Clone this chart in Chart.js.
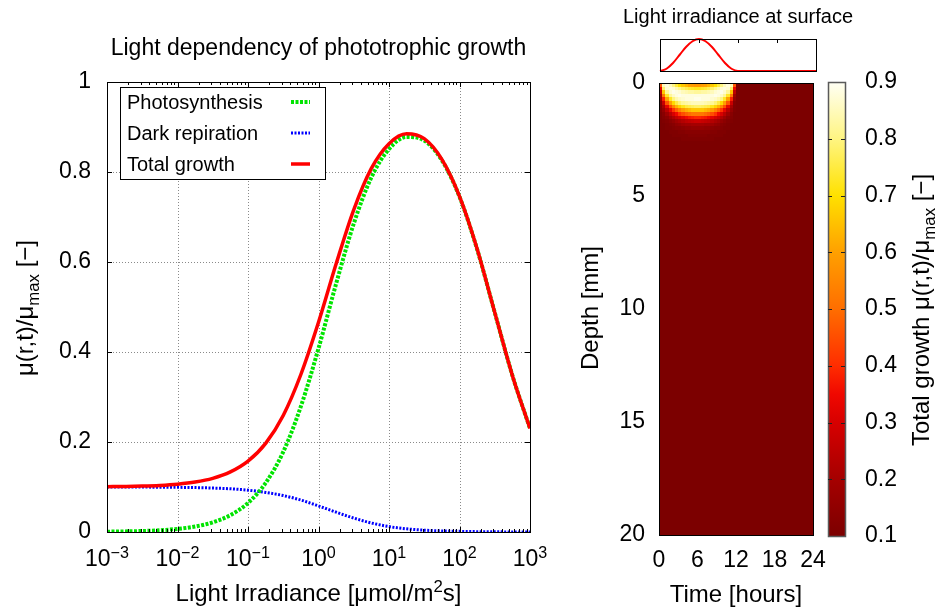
<!DOCTYPE html>
<html>
<head>
<meta charset="utf-8">
<title>Light dependency of phototrophic growth</title>
<script src="https://cdn.jsdelivr.net/npm/chart.js@4.4.1/dist/chart.umd.min.js"></script>
<style>
  html, body { margin: 0; padding: 0; background: #fff; }
  #wrap { position: relative; width: 938px; height: 611px; overflow: hidden; background: #fff; }
  canvas { position: absolute; }
</style>
</head>
<body>
<div id="wrap">
  <canvas id="growthChart" width="560" height="611" style="left:0;top:0"></canvas>
  <canvas id="depthChart" width="300" height="611" style="left:560px;top:0"></canvas>
  <canvas id="surfaceChart" width="260" height="80" style="left:600px;top:0"></canvas>
  <canvas id="scaleChart" width="138" height="611" style="left:800px;top:0"></canvas>
</div>
<script>
  // Left panel: growth vs light irradiance (umol/m2s), log x
  const irradiance = [0.001, 0.00178, 0.00316, 0.00562, 0.01, 0.0178, 0.0316, 0.0562, 0.1, 0.178, 0.316, 0.562,
    1, 1.78, 3.16, 5.62, 10, 17.8, 31.6, 56.2, 100, 178, 316, 562, 1000];
  const photosynthesis = [0.0007, 0.0013, 0.0022, 0.0039, 0.0069, 0.0122, 0.0214, 0.0375, 0.0645, 0.109, 0.178, 0.279,
    0.408, 0.552, 0.685, 0.788, 0.851, 0.878, 0.870, 0.826, 0.745, 0.628, 0.488, 0.348, 0.230];
  const darkRespiration = [0.1, 0.0999, 0.0998, 0.0996, 0.0993, 0.0987, 0.0977, 0.096, 0.093, 0.088, 0.081, 0.071,
    0.058, 0.044, 0.031, 0.020, 0.012, 0.007, 0.004, 0.0024, 0.0014, 0.0008, 0.0004, 0.0002, 0.0001];
  const totalGrowth = [0.1007, 0.1012, 0.102, 0.1035, 0.1062, 0.1109, 0.1191, 0.1335, 0.1575, 0.197, 0.259, 0.350,
    0.466, 0.596, 0.716, 0.808, 0.863, 0.885, 0.874, 0.828, 0.746, 0.629, 0.488, 0.348, 0.230];
  const irrTicks = [0.001, 0.01, 0.1, 1, 10, 100, 1000];
  const irrTickExp = ['\u22123', '\u22122', '\u22121', '0', '1', '2', '3'];
  const growthTicks = [0, 0.2, 0.4, 0.6, 0.8, 1];
  const growthTickLabels = ['0', '0.2', '0.4', '0.6', '0.8', '1'];

  // Right panel: growth map over time (hours) and depth (mm)
  const hourEdges = [0, 0.5, 1, 1.5, 2, 2.5, 3, 3.5, 4, 4.5, 5, 5.5, 6, 6.5, 7, 7.5, 8, 8.5, 9, 9.5, 10, 10.5, 11, 11.5, 12, 24];
  const depthEdges = [0, 0.16, 0.32, 0.48, 0.64, 0.80, 0.96, 1.12, 1.28, 1.44, 1.60, 1.76, 1.92, 2.08, 2.24, 2.40, 2.56, 20];
  const growthMap = [
    [0.47,0.85,0.88,0.85,0.80,0.75,0.70,0.66,0.63,0.60,0.59,0.58,0.58,0.59,0.60,0.63,0.66,0.70,0.75,0.80,0.85,0.88,0.85,0.47,0.10],
    [0.34,0.78,0.87,0.88,0.87,0.84,0.81,0.78,0.76,0.74,0.73,0.72,0.72,0.73,0.74,0.76,0.78,0.81,0.84,0.87,0.88,0.87,0.78,0.34,0.10],
    [0.25,0.66,0.82,0.87,0.89,0.88,0.87,0.85,0.84,0.83,0.83,0.82,0.82,0.83,0.83,0.84,0.85,0.87,0.88,0.89,0.87,0.82,0.66,0.25,0.10],
    [0.18,0.52,0.73,0.82,0.86,0.88,0.89,0.88,0.88,0.88,0.88,0.88,0.88,0.88,0.88,0.88,0.88,0.89,0.88,0.86,0.82,0.73,0.52,0.18,0.10],
    [0.15,0.38,0.60,0.73,0.80,0.84,0.86,0.87,0.88,0.88,0.88,0.89,0.89,0.88,0.88,0.88,0.87,0.86,0.84,0.80,0.73,0.60,0.38,0.15,0.10],
    [0.12,0.27,0.46,0.60,0.69,0.75,0.79,0.82,0.83,0.84,0.85,0.85,0.85,0.85,0.84,0.83,0.82,0.79,0.75,0.69,0.60,0.46,0.27,0.12,0.10],
    [0.11,0.20,0.33,0.45,0.55,0.63,0.68,0.72,0.75,0.76,0.77,0.78,0.78,0.77,0.76,0.75,0.72,0.68,0.63,0.55,0.45,0.33,0.20,0.11,0.10],
    [0.11,0.16,0.24,0.33,0.41,0.48,0.54,0.59,0.62,0.64,0.66,0.66,0.66,0.66,0.64,0.62,0.59,0.54,0.48,0.41,0.33,0.24,0.16,0.11,0.10],
    [0.10,0.13,0.18,0.24,0.30,0.35,0.41,0.45,0.48,0.50,0.52,0.52,0.52,0.52,0.50,0.48,0.45,0.41,0.35,0.30,0.24,0.18,0.13,0.10,0.10],
    [0.10,0.12,0.14,0.18,0.22,0.26,0.29,0.32,0.35,0.37,0.38,0.39,0.39,0.38,0.37,0.35,0.32,0.29,0.26,0.22,0.18,0.14,0.12,0.10,0.10],
    [0.10,0.11,0.12,0.14,0.16,0.19,0.21,0.23,0.25,0.26,0.27,0.28,0.28,0.27,0.26,0.25,0.23,0.21,0.19,0.16,0.14,0.12,0.11,0.10,0.10],
    [0.10,0.10,0.11,0.12,0.13,0.15,0.16,0.18,0.19,0.19,0.20,0.20,0.20,0.20,0.19,0.19,0.18,0.16,0.15,0.13,0.12,0.11,0.10,0.10,0.10],
    [0.10,0.10,0.11,0.11,0.12,0.13,0.13,0.14,0.15,0.15,0.16,0.16,0.16,0.16,0.15,0.15,0.14,0.13,0.13,0.12,0.11,0.11,0.10,0.10,0.10],
    [0.10,0.10,0.10,0.11,0.11,0.11,0.12,0.12,0.13,0.13,0.13,0.13,0.13,0.13,0.13,0.13,0.12,0.12,0.11,0.11,0.11,0.10,0.10,0.10,0.10],
    [0.10,0.10,0.10,0.10,0.11,0.11,0.11,0.11,0.11,0.12,0.12,0.12,0.12,0.12,0.12,0.11,0.11,0.11,0.11,0.11,0.10,0.10,0.10,0.10,0.10],
    [0.10,0.10,0.10,0.10,0.10,0.10,0.10,0.11,0.11,0.11,0.11,0.11,0.11,0.11,0.11,0.11,0.11,0.10,0.10,0.10,0.10,0.10,0.10,0.10,0.10],
    [0.10,0.10,0.10,0.10,0.10,0.10,0.10,0.10,0.10,0.10,0.10,0.10,0.10,0.10,0.10,0.10,0.10,0.10,0.10,0.10,0.10,0.10,0.10,0.10,0.10]
  ];
  const hourTicks = [0, 6, 12, 18, 24];
  const depthTicks = [0, 5, 10, 15, 20];
  const scaleTicks = [0.1, 0.2, 0.3, 0.4, 0.5, 0.6, 0.7, 0.8, 0.9];
  const scaleTickLabels = ['0.1', '0.2', '0.3', '0.4', '0.5', '0.6', '0.7', '0.8', '0.9'];

  // Inset: light at the surface over the day (relative)
  const surfaceHours = [0, 1, 2, 3, 4, 5, 6, 7, 8, 9, 10, 11, 12, 24];
  const surfaceLight = [0, 0.07, 0.25, 0.5, 0.75, 0.93, 1, 0.93, 0.75, 0.5, 0.25, 0.07, 0, 0];

  // colour palette for the growth map (value -> rgb)
  const palette = [
    [0.1, [124, 0, 0]], [0.2, [165, 0, 0]], [0.3, [215, 0, 0]], [0.35, [240, 8, 0]], [0.4, [255, 45, 0]],
    [0.5, [255, 110, 0]], [0.6, [255, 160, 0]], [0.7, [255, 225, 0]], [0.8, [255, 245, 130]], [0.9, [255, 255, 245]]
  ];

  const FAMILY = '"Liberation Sans", Arial, Helvetica, sans-serif';
  const fontOf = (size) => size + 'px ' + FAMILY;

  function colorFor(v) {
    if (v <= palette[0][0]) return 'rgb(' + palette[0][1].join(',') + ')';
    for (let i = 1; i < palette.length; i++) {
      if (v <= palette[i][0]) {
        const [v0, c0] = palette[i - 1];
        const [v1, c1] = palette[i];
        const f = (v - v0) / (v1 - v0);
        const c = c0.map((ch, k) => Math.round(ch + (c1[k] - ch) * f));
        return 'rgb(' + c.join(',') + ')';
      }
    }
    return 'rgb(' + palette[palette.length - 1][1].join(',') + ')';
  }

  function line(ctx, x0, y0, x1, y1) {
    ctx.beginPath();
    ctx.moveTo(x0, y0);
    ctx.lineTo(x1, y1);
    ctx.stroke();
  }

  // text made of parts: [text, null | 'sub' | 'sup'], centred on x, baseline y
  function richText(ctx, parts, x, y, size) {
    ctx.textAlign = 'left';
    ctx.textBaseline = 'alphabetic';
    let total = 0;
    parts.forEach(p => { ctx.font = fontOf(p[1] ? size * 0.7 : size); total += ctx.measureText(p[0]).width; });
    let cx = x - total / 2;
    parts.forEach(p => {
      const s = p[1] ? size * 0.7 : size;
      ctx.font = fontOf(s);
      const dy = p[1] === 'sub' ? size * 0.25 : (p[1] === 'sup' ? -size * 0.36 : 0);
      ctx.fillText(p[0], cx, y + dy);
      cx += ctx.measureText(p[0]).width;
    });
  }

  function richTextUp(ctx, parts, x, y, size) {
    ctx.save();
    ctx.translate(x, y);
    ctx.rotate(-Math.PI / 2);
    richText(ctx, parts, 0, 0, size);
    ctx.restore();
  }

  function frame(ctx, a, color, width) {
    ctx.save();
    ctx.strokeStyle = color;
    ctx.lineWidth = width;
    ctx.setLineDash([]);
    ctx.strokeRect(Math.round(a.left) + 0.5, Math.round(a.top) + 0.5, Math.round(a.right - a.left), Math.round(a.bottom - a.top));
    ctx.restore();
  }

  // ---------- left chart ----------
  const growthDecor = {
    id: 'growthDecor',
    beforeDatasetsDraw(chart) {
      const { ctx, chartArea: a, scales: { x, y } } = chart;
      ctx.save();
      ctx.strokeStyle = '#8a8a8a';
      ctx.lineWidth = 1;
      ctx.setLineDash([1, 2]);
      irrTicks.slice(1, -1).forEach(v => {
        const px = Math.round(x.getPixelForValue(v)) + 0.5;
        line(ctx, px, a.top, px, a.bottom);
      });
      growthTicks.slice(1, -1).forEach(v => {
        const py = Math.round(y.getPixelForValue(v)) + 0.5;
        line(ctx, a.left, py, a.right, py);
      });
      ctx.restore();
    },
    afterDraw(chart) {
      const { ctx, chartArea: a, scales: { x, y } } = chart;
      ctx.save();
      frame(ctx, a, '#000', 1);
      ctx.strokeStyle = '#000';
      ctx.lineWidth = 1;

      // ticks pointing inwards, minor ticks on the log axis
      irrTicks.forEach((v, i) => {
        const px = Math.round(x.getPixelForValue(v)) + 0.5;
        line(ctx, px, a.bottom, px, a.bottom - 5);
        line(ctx, px, a.top, px, a.top + 5);
        if (i < irrTicks.length - 1) {
          for (let k = 2; k <= 9; k++) {
            const mx = Math.round(x.getPixelForValue(v * k)) + 0.5;
            line(ctx, mx, a.bottom, mx, a.bottom - 3);
            line(ctx, mx, a.top, mx, a.top + 3);
          }
        }
      });
      growthTicks.forEach(v => {
        const py = Math.round(y.getPixelForValue(v)) + 0.5;
        line(ctx, a.left, py, a.left + 5, py);
        line(ctx, a.right, py, a.right - 5, py);
      });

      ctx.fillStyle = '#000';
      // y tick labels
      ctx.font = fontOf(23);
      ctx.textAlign = 'right';
      ctx.textBaseline = 'middle';
      growthTicks.forEach((v, i) => ctx.fillText(growthTickLabels[i], a.left - 16, y.getPixelForValue(v)));
      // x tick labels 10^n
      irrTicks.forEach((v, i) => richText(ctx, [['10', null], [irrTickExp[i], 'sup']], x.getPixelForValue(v), a.bottom + 34, 23));

      // titles
      ctx.font = fontOf(23);
      ctx.textAlign = 'center';
      ctx.textBaseline = 'alphabetic';
      ctx.fillText('Light dependency of phototrophic growth', (a.left + a.right) / 2, 55);
      richText(ctx, [['Light Irradiance [\u03bcmol/m', null], ['2', 'sup'], ['s]', null]], (a.left + a.right) / 2, 601, 24);
      richTextUp(ctx, [['\u03bc(r,t)/\u03bc', null], ['max', 'sub'], [' [\u2212]', null]], 33, 308, 24);

      // key box
      const kx0 = 120, ky0 = 87, kx1 = 325, ky1 = 179;
      ctx.fillStyle = '#fff';
      ctx.fillRect(kx0, ky0, kx1 - kx0, ky1 - ky0);
      ctx.strokeStyle = '#000';
      ctx.strokeRect(kx0 + 0.5, ky0 + 0.5, kx1 - kx0, ky1 - ky0);
      const keyOrder = [1, 2, 0];
      ctx.font = fontOf(20);
      ctx.textAlign = 'left';
      keyOrder.forEach((di, r) => {
        const ds = chart.data.datasets[di];
        const cy = 102 + r * 31;
        ctx.fillStyle = '#000';
        ctx.fillText(ds.label, 127, cy + 7);
        ctx.save();
        ctx.strokeStyle = ds.borderColor;
        ctx.lineWidth = ds.borderWidth;
        ctx.setLineDash(ds.borderDash || []);
        line(ctx, 291, cy, 310, cy);
        ctx.restore();
      });
      ctx.restore();
    }
  };

  const toPoints = (ys) => irradiance.map((v, i) => ({ x: v, y: ys[i] }));

  new Chart(document.getElementById('growthChart'), {
    type: 'line',
    data: {
      datasets: [
        { label: 'Total growth', data: toPoints(totalGrowth), borderColor: '#ff0000', borderWidth: 3.5, order: 0 },
        { label: 'Photosynthesis', data: toPoints(photosynthesis), borderColor: '#00e400', borderWidth: 4, borderDash: [3, 1.5], order: 1 },
        { label: 'Dark repiration', data: toPoints(darkRespiration), borderColor: '#0000ff', borderWidth: 3, borderDash: [2, 1.5], order: 2 }
      ]
    },
    options: {
      responsive: false,
      animation: false,
      layout: { padding: { left: 107, right: 30, top: 82, bottom: 79 } },
      elements: {
        point: { radius: 0 },
        line: { cubicInterpolationMode: 'monotone', fill: false }
      },
      plugins: { legend: { display: false }, tooltip: { enabled: false } },
      scales: {
        x: { type: 'logarithmic', min: 0.001, max: 1000, display: false },
        y: { type: 'linear', min: 0, max: 1, display: false }
      }
    },
    plugins: [growthDecor]
  });

  // ---------- growth map ----------
  const mapDecor = {
    id: 'mapDecor',
    afterDraw(chart) {
      const { ctx, chartArea: a, scales: { x, y } } = chart;
      ctx.save();
      growthMap.forEach((row, r) => {
        const y0 = Math.round(y.getPixelForValue(depthEdges[r]));
        const y1 = Math.round(y.getPixelForValue(depthEdges[r + 1]));
        row.forEach((v, c) => {
          const x0 = Math.round(x.getPixelForValue(hourEdges[c]));
          const x1 = Math.round(x.getPixelForValue(hourEdges[c + 1]));
          ctx.fillStyle = colorFor(v);
          ctx.fillRect(x0, y0, x1 - x0, y1 - y0);
        });
      });
      frame(ctx, a, '#000', 1);

      ctx.fillStyle = '#000';
      ctx.font = fontOf(23);
      ctx.textAlign = 'right';
      ctx.textBaseline = 'middle';
      depthTicks.forEach(v => ctx.fillText(String(v), a.left - 14, y.getPixelForValue(v)));
      ctx.textAlign = 'center';
      ctx.textBaseline = 'alphabetic';
      hourTicks.forEach(v => ctx.fillText(String(v), x.getPixelForValue(v), 567));
      richText(ctx, [['Time [hours]', null]], 176, 602, 24);
      richTextUp(ctx, [['Depth [mm]', null]], 38, 308, 24);
      ctx.restore();
    }
  };

  new Chart(document.getElementById('depthChart'), {
    type: 'scatter',
    data: { datasets: [] },
    options: {
      responsive: false,
      animation: false,
      layout: { padding: { left: 99, right: 47, top: 83, bottom: 76 } },
      plugins: { legend: { display: false }, tooltip: { enabled: false } },
      scales: {
        x: { type: 'linear', min: 0, max: 24, display: false },
        y: { type: 'linear', min: 0, max: 20, reverse: true, display: false }
      }
    },
    plugins: [mapDecor]
  });

  // ---------- surface light inset ----------
  const surfaceDecor = {
    id: 'surfaceDecor',
    afterDraw(chart) {
      const { ctx, chartArea: a, scales: { x } } = chart;
      ctx.save();
      frame(ctx, a, '#000', 1);
      ctx.strokeStyle = '#000';
      ctx.lineWidth = 1;
      [6, 12, 18].forEach(v => {
        const px = Math.round(x.getPixelForValue(v)) + 0.5;
        line(ctx, px, a.top, px, a.top + 4);
      });
      ctx.fillStyle = '#000';
      richText(ctx, [['Light irradiance at surface', null]], 138, 23, 20);
      ctx.restore();
    }
  };

  new Chart(document.getElementById('surfaceChart'), {
    type: 'line',
    data: {
      datasets: [{
        data: surfaceHours.map((h, i) => ({ x: h, y: surfaceLight[i] })),
        borderColor: '#ff0000',
        borderWidth: 2,
        pointRadius: 0,
        cubicInterpolationMode: 'monotone',
        clip: false
      }]
    },
    options: {
      responsive: false,
      animation: false,
      layout: { padding: { left: 60, right: 44, top: 39, bottom: 9 } },
      plugins: { legend: { display: false }, tooltip: { enabled: false } },
      scales: {
        x: { type: 'linear', min: 0, max: 24, display: false },
        y: { type: 'linear', min: 0, max: 1, display: false }
      }
    },
    plugins: [surfaceDecor]
  });

  // ---------- colour box ----------
  const scaleDecor = {
    id: 'scaleDecor',
    afterDraw(chart) {
      const { ctx, chartArea: a, scales: { y } } = chart;
      ctx.save();
      const yb = y.getPixelForValue(0.1);
      const yt = y.getPixelForValue(0.9);
      const grad = ctx.createLinearGradient(0, yb, 0, yt);
      palette.forEach(([v, c]) => grad.addColorStop((v - 0.1) / 0.8, 'rgb(' + c.join(',') + ')'));
      ctx.fillStyle = grad;
      ctx.fillRect(a.left, a.top, a.right - a.left, a.bottom - a.top);
      frame(ctx, a, '#5a5a5a', 1.5);
      ctx.strokeStyle = '#222';
      ctx.lineWidth = 1;
      scaleTicks.slice(1, -1).forEach(v => {
        const py = Math.round(y.getPixelForValue(v)) + 0.5;
        line(ctx, a.left, py, a.left + 4, py);
        line(ctx, a.right, py, a.right - 4, py);
      });
      ctx.fillStyle = '#000';
      ctx.font = fontOf(23);
      ctx.textAlign = 'left';
      ctx.textBaseline = 'middle';
      scaleTicks.forEach((v, i) => ctx.fillText(scaleTickLabels[i], 65, y.getPixelForValue(v)));
      richTextUp(ctx, [['Total growth \u03bc(r,t)/\u03bc', null], ['max', 'sub'], [' [\u2212]', null]], 129, 310, 24);
      ctx.restore();
    }
  };

  new Chart(document.getElementById('scaleChart'), {
    type: 'scatter',
    data: { datasets: [] },
    options: {
      responsive: false,
      animation: false,
      layout: { padding: { left: 28, right: 93, top: 82, bottom: 75 } },
      plugins: { legend: { display: false }, tooltip: { enabled: false } },
      scales: {
        x: { type: 'linear', min: 0, max: 1, display: false },
        y: { type: 'linear', min: 0.1, max: 0.9, display: false }
      }
    },
    plugins: [scaleDecor]
  });
</script>
</body>
</html>
